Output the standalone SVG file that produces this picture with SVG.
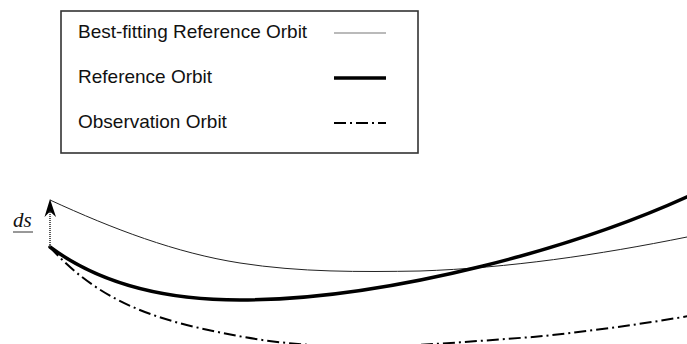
<svg xmlns="http://www.w3.org/2000/svg" width="687" height="344" viewBox="0 0 687 344">
  <style>
    .lbl { font-family: "Liberation Sans", Arial, sans-serif; font-size: 19px; fill: #111; }
    .thin { fill: none; stroke: #222; stroke-width: 1; }
    .thick { fill: none; stroke: #000; stroke-width: 3.5; stroke-linecap: round; }
    .dashdot { fill: none; stroke: #000; stroke-width: 2; stroke-dasharray: 12 4 2 4; }
  </style>
  <rect width="687" height="344" fill="#fff"/>

  <!-- legend -->
  <g id="legend">
    <rect x="61" y="11" width="357" height="142" fill="#fff" stroke="#333" stroke-width="1.6"/>
    <text class="lbl" x="78" y="38">Best-fitting Reference Orbit</text>
    <text class="lbl" x="78" y="83">Reference Orbit</text>
    <text class="lbl" x="78" y="128">Observation Orbit</text>
    <line x1="334" y1="33" x2="386" y2="33" stroke="#777" stroke-width="1.2"/>
    <line x1="334" y1="78" x2="386" y2="78" stroke="#000" stroke-width="3.5"/>
    <line x1="334" y1="123" x2="386" y2="123" class="dashdot"/>
  </g>

  <!-- orbits -->
  <g id="connectors">
    <path id="best-fit-orbit" class="thin" d="M50,200 C113,229 176,253 240,263 C300,272.4 360,272 420,271 C509,268 598,255 687,237"/>
    <path id="reference-orbit" class="thick" d="M50,247 C100,284 165,300 240,300 C321,300 402,286 483,266 C551,249 619,228 689,196"/>
    <path id="observation-orbit" class="dashdot" d="M50,247 C105,309 172,323 233,335 C333,355 433,344 533,337 C584,332 636,325 689,316"/>
  </g>

  <!-- displacement ds -->
  <g id="ds">
    <line x1="50" y1="210" x2="50" y2="247" stroke="#333" stroke-width="1.6" stroke-dasharray="1 1"/>
    <path d="M50,199 L56,217 L50,211.5 L44.5,217 Z" fill="#000"/>
    <text x="13" y="227" font-family="Liberation Serif, 'Times New Roman', serif" font-style="italic" font-size="21" fill="#111">ds</text>
    <line x1="13" y1="232" x2="33" y2="232" stroke="#333" stroke-width="1"/>
  </g>
</svg>
